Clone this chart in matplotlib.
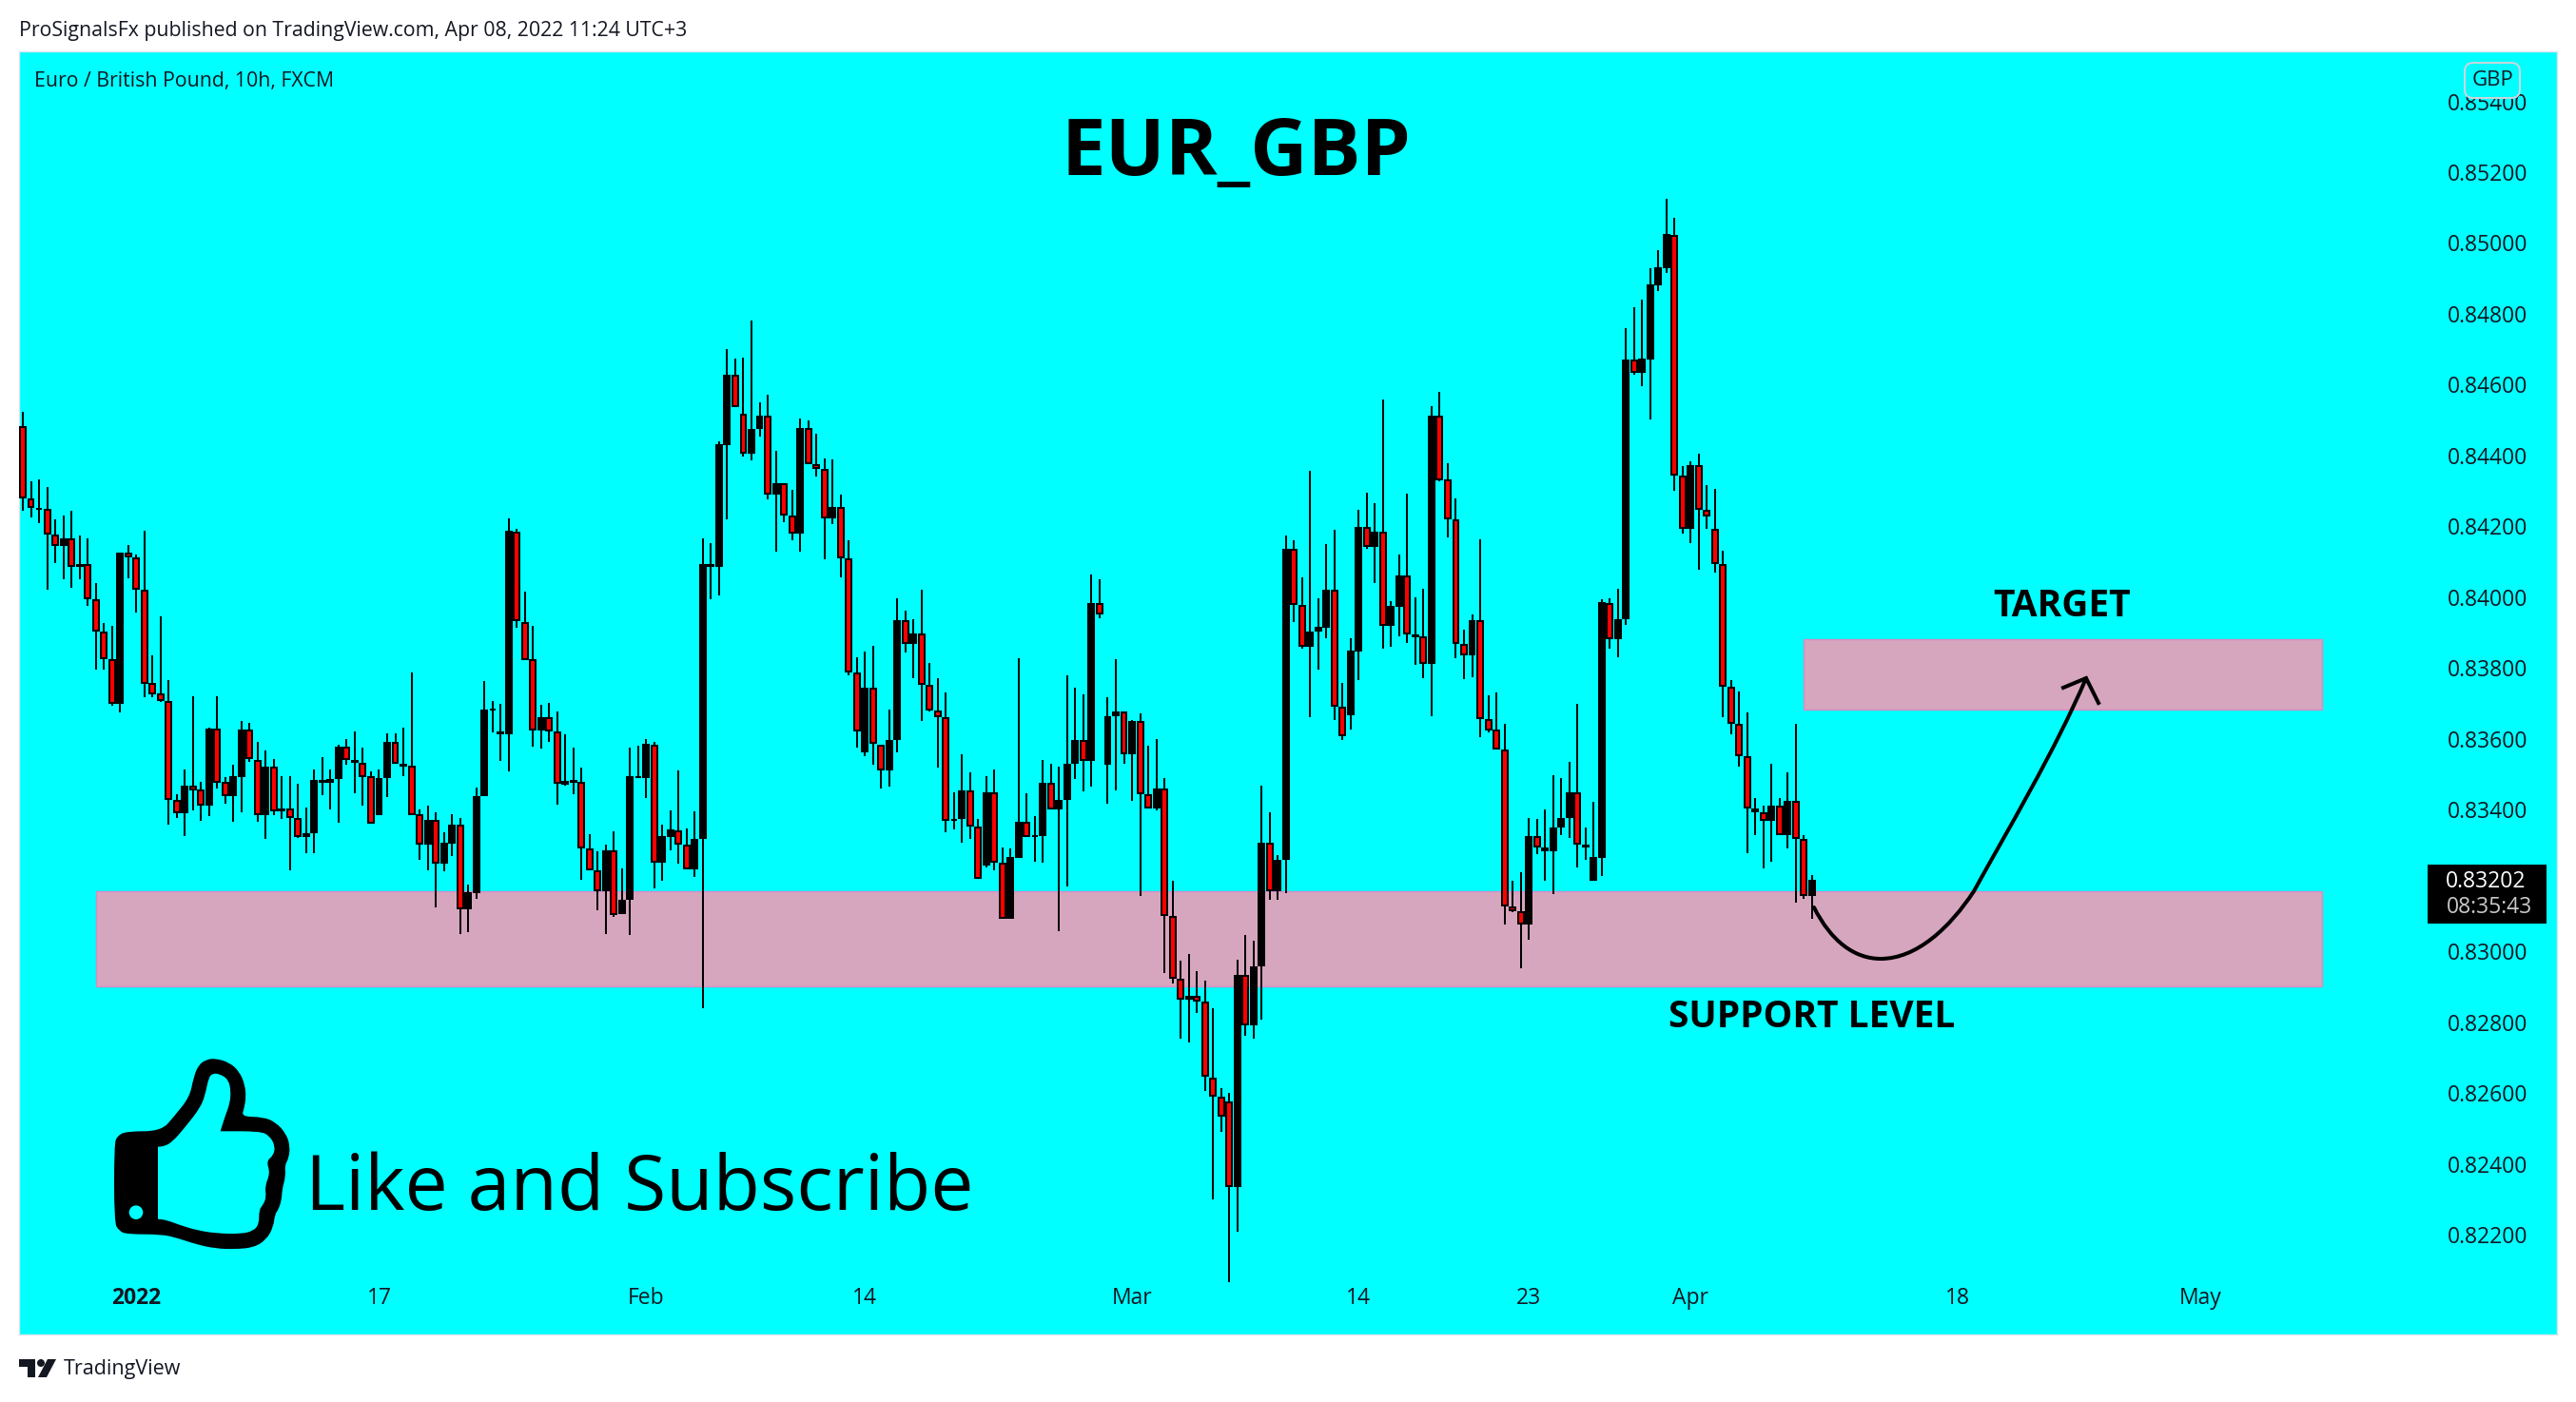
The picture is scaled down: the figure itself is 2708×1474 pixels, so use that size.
import numpy as np
import matplotlib
matplotlib.use('Agg')
import matplotlib.pyplot as plt
from matplotlib.path import Path
from matplotlib.patches import PathPatch, Rectangle, FancyBboxPatch, Circle, Polygon

# EUR/GBP 10h candles, in 1e-5 price units
opens = [
    84482,84278,84248,84249,84176,84146,84165,84086,84095,83995,
    83902,83826,83698,84125,84112,84021,83757,83728,83708,83429,
    83391,83467,83457,83412,83628,83478,83439,83492,83626,83540,
    83384,83521,83395,83403,83378,83322,83333,83477,83477,83486,
    83577,83533,83534,83494,83386,83491,83593,83523,83524,83387,
    83303,83371,83247,83305,83357,83120,83166,83440,83681,83612,
    83612,84186,83931,83824,83625,83661,83620,83472,83477,83480,
    83290,83229,83171,83285,83107,83145,83491,83491,83585,83252,
    83324,83343,83303,83231,83319,84086,84086,84430,84627,84517,
    84406,84474,84514,84289,84321,84230,84179,84477,84377,84361,
    84222,84254,84111,83789,83562,83744,83585,83510,83598,83935,
    83867,83899,83752,83680,83661,83370,83373,83454,83354,83244,
    83449,83250,83093,83264,83367,83323,83327,83475,83401,83427,
    83531,83598,83537,83983,83526,83664,83677,83556,83650,83443,
    83403,83459,83101,82922,82864,82874,82860,82645,82589,82578,
    82336,82935,82791,82957,83306,83169,83258,84138,83978,83859,
    83904,83915,84022,83690,83668,83848,84199,84143,84185,83918,
    83974,84062,83887,83890,83813,84513,84333,84220,83869,83837,
    83936,83657,83627,83571,83126,83115,83077,83327,83295,83284,
    83349,83376,83450,83295,83200,83265,83985,83881,83937,84670,
    84634,84672,84881,84929,85024,84344,84194,84374,84246,84194,
    84093,83748,83644,83552,83405,83392,83370,83413,83328,83426,83319,83158]
highs = [
    84524,84327,84332,84312,84219,84230,84244,84174,84166,84039,
    83927,83919,84126,84147,84120,84187,83836,83945,83766,83443,
    83513,83720,83479,83633,83720,83492,83527,83652,83646,83593,
    83567,83543,83495,83495,83474,83406,83515,83550,83515,83585,
    83600,83620,83575,83508,83515,83616,83617,83632,83787,83400,
    83413,83394,83336,83387,83377,83190,83463,83763,83706,83698,
    84224,84192,84015,83919,83696,83703,83677,83612,83575,83518,
    83331,83282,83301,83338,83234,83575,83580,83601,83593,83357,
    83398,83510,83348,83395,84165,84154,84440,84700,84675,84677,
    84780,84549,84571,84414,84321,84302,84504,84498,84461,84393,
    84388,84289,84162,83832,83848,83864,83585,83682,83996,83962,
    83938,84020,83815,83771,83731,83449,83558,83505,83373,83494,
    83515,83295,83292,83827,83446,83383,83540,83529,83523,83779,
    83744,83725,84063,84052,83717,83824,83677,83653,83672,83582,
    83601,83489,83199,82973,82992,82944,82917,82841,82615,82602,
    82978,83046,83031,83467,83392,83271,84174,84162,84055,84356,
    83997,84150,84191,83758,83885,84247,84295,84266,84559,83988,
    84121,84293,83999,84024,84540,84580,84379,84279,83909,83952,
    84164,83724,83732,83642,83200,83225,83376,83374,83402,83498,
    83491,83534,83698,83349,83423,83995,83998,84023,84761,84820,
    84841,84929,84979,85124,85072,84371,84385,84406,84318,84306,
    84132,83767,83735,83676,83434,83413,83531,83432,83507,83644,83328,83217]
lows = [
    84245,84226,84210,84022,84096,84050,84027,84050,83976,83796,
    83796,83694,83675,84054,83957,83718,83718,83704,83358,83378,
    83326,83399,83369,83383,83460,83418,83367,83393,83535,83367,
    83318,83385,83374,83230,83321,83277,83277,83441,83401,83363,
    83527,83446,83412,83360,83386,83436,83531,83495,83386,83258,
    83230,83125,83226,83269,83049,83055,83149,83440,83618,83538,
    83509,83913,83823,83578,83573,83592,83414,83469,83444,83202,
    83228,83116,83049,83099,83107,83047,83491,83434,83177,83200,
    83286,83248,83231,83211,82840,83995,84006,84221,84536,84397,
    84386,84454,84277,84128,84213,84161,84128,84377,84341,84107,
    84207,84056,83780,83576,83552,83527,83461,83466,83562,83844,
    83772,83652,83678,83519,83336,83344,83307,83318,83204,83238,
    83230,83093,83093,83264,83323,83254,83251,83401,83057,83184,
    83487,83453,83466,83942,83418,83455,83529,83426,83157,83403,
    83399,82940,82910,82754,82743,82826,82607,82299,82490,82068,
    82210,82761,82753,82809,83145,83147,83164,83929,83856,83662,
    83796,83885,83654,83597,83627,83767,84137,84040,83855,83860,
    83890,83871,83809,83772,83664,84328,84169,83828,83769,83775,
    83605,83619,83571,83077,83111,82953,83033,83275,83199,83163,
    83328,83320,83237,83259,83200,83213,83854,83831,83922,84629,
    84596,84502,84864,84916,84301,84180,84153,84078,84193,84069,
    83662,83613,83522,83277,83329,83235,83253,83328,83291,83138,83149,83092]
closes = [
    84278,84251,84251,84176,84146,84165,84086,84095,83995,83902,
    83826,83698,84126,84112,84020,83756,83727,83708,83429,83391,
    83467,83456,83412,83629,83477,83439,83495,83627,83544,83384,
    83522,83395,83404,83378,83322,83334,83483,83483,83487,83578,
    83542,83542,83493,83361,83491,83593,83531,83531,83386,83303,
    83372,83247,83306,83357,83120,83167,83440,83684,83685,83620,
    84187,83933,83823,83625,83662,83620,83473,83481,83483,83290,
    83228,83171,83285,83104,83145,83495,83495,83586,83252,83325,
    83344,83303,83231,83319,84095,84095,84432,84627,84538,84406,
    84474,84514,84289,84321,84230,84179,84477,84377,84361,84222,
    84254,84111,83789,83620,83744,83585,83510,83598,83935,83867,
    83899,83752,83680,83661,83370,83374,83454,83354,83204,83449,
    83250,83093,83266,83367,83324,83327,83475,83401,83427,83531,
    83598,83537,83983,83951,83664,83677,83556,83650,83443,83403,
    83459,83101,82922,82864,82874,82860,82646,82590,82533,82336,
    82935,82791,82957,83306,83171,83258,84138,83978,83859,83904,
    83917,84022,83690,83609,83850,84199,84143,84185,83918,83976,
    84062,83894,83895,83813,84513,84330,84219,83867,83837,83936,
    83657,83625,83571,83126,83113,83077,83327,83295,83284,83349,
    83376,83450,83301,83301,83267,83986,83881,83937,84670,84634,
    84673,84882,84931,85025,84344,84194,84374,84246,84229,84093,
    83748,83644,83552,83405,83392,83370,83413,83328,83426,83319,83158,83202]

price_ticks = [0.854, 0.852, 0.850, 0.848, 0.846, 0.844, 0.842, 0.840, 0.838, 0.836,
               0.834, 0.830, 0.828, 0.826, 0.824, 0.822]
date_ticks = [14, 44, 77, 104, 137, 165, 186, 206, 239, 269]
date_labels = ['2022', '17', 'Feb', '14', 'Mar', '14', '23', 'Apr', '18', 'May']
support_zone = (0.82902, 0.83170)
target_zone = (0.83683, 0.83882)

FONT = 'Open Sans'
W, H = 2708, 1474
CYAN = '#00FFFF'
PINK = '#D6A6BE'

o, h, l, c = [np.array(a) / 1e5 for a in (opens, highs, lows, closes)]
x = np.arange(len(o))
up = c >= o
top = np.maximum(o, c)
bot = np.minimum(o, c)
onepx = 2.7e-5  # body outline sits outside the bar

fig = plt.figure(figsize=(W / 100, H / 100), dpi=100, facecolor='white')
L, R, T, B = 20, 2688, 54, 1403
ax = fig.add_axes([L / W, 1 - B / H, (R - L) / W, (B - T) / H], facecolor=CYAN)
ax.set_xlim(-0.47, 313.0)
ax.set_ylim(0.81919, 0.85541)

# zones sit under the candles
z1 = (support_zone[1] + support_zone[0]) / 2
ax.axhspan(*support_zone, xmin=(101 - L) / (R - L), xmax=(2441 - L) / (R - L),
           facecolor=PINK, edgecolor='#D58CC4', lw=1, zorder=1)
ax.axhspan(*target_zone, xmin=(1896 - L) / (R - L), xmax=(2441 - L) / (R - L),
           facecolor=PINK, edgecolor='#D58CC4', lw=1, zorder=1)

ax.vlines(x, l, h, color='black', lw=1.44, zorder=2, antialiased=False)
hgt = np.maximum(top - bot - 2 * onepx, 0)
ax.bar(x, hgt, bottom=bot + onepx, width=0.7,
       color=np.where(up, 'black', '#FF0000'), edgecolor='black', lw=1.44,
       zorder=3, antialiased=False)

ax.yaxis.tick_right()
ax.set_yticks(price_ticks)
ax.set_yticklabels([f'{p:.5f}' for p in price_ticks], fontsize=16.5, family=FONT, color='#131722')
ax.tick_params(axis='y', length=0, pad=-83)
ax.set_xticks(date_ticks)
ax.set_xticklabels(date_labels, fontsize=16.5, family=FONT, color='#131722')
ax.get_xticklabels()[0].set_fontweight('bold')
ax.tick_params(axis='x', length=0, pad=-36)
for s in ax.spines.values():
    s.set_color('#E0E3EB')
    s.set_linewidth(1)

# overlay in image pixels for the drawn-on annotations
ov = fig.add_axes([0, 0, 1, 1], facecolor='none')
ov.set_xlim(0, W)
ov.set_ylim(H, 0)
ov.axis('off')

ov.text(20, 32, 'ProSignalsFx published on TradingView.com, Apr 08, 2022 11:24 UTC+3',
        fontsize=15.3, family=FONT, color='#131722', va='center')
ov.text(36, 85, 'Euro / British Pound, 10h, FXCM', fontsize=15.3, family=FONT,
        color='#131722', va='center')
ov.text(1299, 162, 'EUR_GBP', fontsize=60, family=FONT, weight='bold', color='black',
        ha='center', va='center')
ov.text(2168, 637, 'TARGET', fontsize=28, family=FONT, weight='bold', color='black',
        ha='center', va='center')
ov.text(1905, 1069, 'SUPPORT LEVEL', fontsize=28, family=FONT, weight='bold', color='black',
        ha='center', va='center')
ov.text(321, 1272, 'Like and Subscribe', fontsize=58, family=FONT, color='black',
        va='baseline')

# GBP badge covers the top tick label
ov.add_patch(FancyBboxPatch((2597, 72), 46, 25, boxstyle='round,pad=6,rounding_size=9',
                            fc=CYAN, ec='#D1D4DC', lw=1.4, mutation_aspect=1))
ov.text(2620, 84, 'GBP', fontsize=16, family=FONT, color='#131722', ha='center', va='center')

# last price tag
ov.add_patch(Rectangle((2552, 909), 125, 62, fc='#000000', ec='none'))
ov.text(2613, 927, '0.83202', fontsize=16.5, family=FONT, color='white', ha='center', va='center')
ov.text(2617, 954, '08:35:43', fontsize=16.5, family=FONT, color='#C8C8C8', ha='center', va='center')

# hand drawn forecast curve
curve = Path([(1907, 954), (1925, 990), (1950, 1008), (1977, 1008),
              (2015, 1008), (2050, 975), (2075, 937),
              (2112, 870), (2160, 790), (2193, 713)],
             [Path.MOVETO] + [Path.CURVE4] * 9)
ov.add_patch(PathPatch(curve, fc='none', ec='black', lw=2.9, capstyle='round'))
ov.plot([2169, 2193, 2206], [723, 713, 739], color='black', lw=2.9, solid_joinstyle='miter')


def smooth(points, x0, y0):
    # closed quadratic spline through the midpoints, zoomed points -> pixels
    p = np.array(points, float) / 3 + [x0, y0]
    mid = (p + np.roll(p, -1, axis=0)) / 2
    verts = [mid[-1]]
    codes = [Path.MOVETO]
    for a, m in zip(p, mid):
        verts += [a, m]
        codes += [Path.CURVE3, Path.CURVE3]
    return Path(verts, codes)


hand_outer = [(180, 340), (190, 312), (220, 298), (328, 298), (370, 250), (418, 190), (430, 130),
              (445, 90), (470, 72), (500, 68), (545, 82), (575, 110), (592, 150), (596, 190),
              (590, 225), (582, 252), (650, 253), (690, 270), (722, 305), (735, 345), (730, 385),
              (718, 405), (721, 440), (710, 480), (708, 515), (698, 545), (687, 560), (682, 600),
              (660, 640), (620, 665), (560, 670), (500, 668), (440, 655), (380, 635), (330, 623),
              (220, 623), (195, 612), (180, 585)]
hand_inner = [(318, 347), (318, 347), (340, 345), (365, 330), (400, 290), (455, 220), (470, 170),
              (478, 130), (490, 115), (515, 118), (540, 135), (548, 170), (545, 210), (530, 250),
              (515, 298), (515, 298), (640, 298), (670, 312), (688, 345), (682, 375), (660, 392),
              (672, 430), (655, 472), (660, 505), (650, 530), (637, 545), (637, 590), (620, 612),
              (580, 622), (500, 620), (440, 610), (390, 595), (345, 578), (318, 575), (318, 575)]
ov.add_patch(PathPatch(smooth(hand_outer, 60, 1090), fc='black', ec='none'))
ov.add_patch(PathPatch(smooth(hand_inner, 60, 1090), fc=CYAN, ec='none'))
ov.add_patch(Circle((60 + 249 / 3, 1090 + 554 / 3), 7.3, fc=CYAN, ec='none'))

# TradingView mark
INK = '#131722'
ov.add_patch(Polygon([(20, 1429), (37, 1429), (37, 1448), (29, 1448), (29, 1437), (20, 1437)], fc=INK, ec='none'))
ov.add_patch(Circle((43, 1433), 4, fc=INK, ec='none'))
ov.add_patch(Polygon([(50, 1429), (59, 1429), (49, 1448), (40, 1448)], fc=INK, ec='none'))
ov.text(67, 1439, 'TradingView', fontsize=15.5, family=FONT, color=INK, va='center')

fig.savefig('out.png', dpi=100)
